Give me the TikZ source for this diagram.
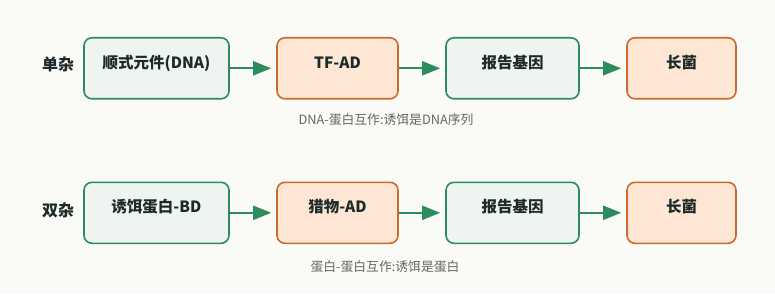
\documentclass[tikz,border=0pt]{standalone}
\usepackage{fontspec}
\setmainfont{Noto Sans CJK SC}
\definecolor{hybg}{HTML}{FAFAF7}
\definecolor{hygreen}{HTML}{2E8B5E}
\definecolor{hygreenfill}{HTML}{EEF5F1}
\definecolor{hyorange}{HTML}{CC6A2C}
\definecolor{hyorangefill}{HTML}{FDE7D4}
\definecolor{hytext}{HTML}{1E2A2A}
\definecolor{hynote}{HTML}{666666}
\usetikzlibrary{arrows.meta}

\begin{document}
\begin{tikzpicture}[x=1pt, y=-1pt,
    box/.style={draw, line width=1.6pt, rounded corners=8pt, minimum height=61pt,
      font=\fontsize{15.5}{18}\selectfont\bfseries, text=hytext,
      text height=12pt, text depth=12pt, inner sep=0pt},
    greenbox/.style={box, draw=hygreen, fill=hygreenfill},
    orangebox/.style={box, draw=hyorange, fill=hyorangefill},
    rowlabel/.style={font=\fontsize{16}{18}\selectfont\bfseries, text=hytext},
    note/.style={font=\fontsize{12.8}{14}\selectfont, text=hynote},
    flow/.style={draw=hygreen, line width=2pt, -{Triangle[length=18pt, width=14pt]}, shorten >=5pt}
  ]
    \fill[hybg] (0,0) rectangle (775,294);
    \useasboundingbox (0,0) rectangle (775,294);

    % single hybrid
    \node[rowlabel] (single) at (58,64) {单杂};
    \node[greenbox, minimum width=145pt] (s1) at (156.5,68.3) {顺式元件(DNA)};
    \node[orangebox, minimum width=121pt] (s2) at (337.5,68.3) {TF-AD};
    \node[greenbox, minimum width=133pt] (s3) at (512.5,68.3) {报告基因};
    \node[orangebox, minimum width=109pt] (s4) at (681.5,68.3) {长菌};
    \node[note] (snote) at (386,120) {DNA-蛋白互作:诱饵是DNA序列};

    % two hybrid
    \node[rowlabel] (double) at (58,210.5) {双杂};
    \node[greenbox, minimum width=145pt] (d1) at (156.5,212.8) {诱饵蛋白-BD};
    \node[orangebox, minimum width=121pt] (d2) at (337.5,212.8) {猎物-AD};
    \node[greenbox, minimum width=133pt] (d3) at (512.5,212.8) {报告基因};
    \node[orangebox, minimum width=109pt] (d4) at (681.5,212.8) {长菌};
    \node[note] (dnote) at (385,266.7) {蛋白-蛋白互作:诱饵是蛋白};

    \foreach \from/\to in {s1/s2, s2/s3, s3/s4, d1/d2, d2/d3, d3/d4}
      \draw[flow] (\from) -- (\to);
  \end{tikzpicture}
\end{document}
